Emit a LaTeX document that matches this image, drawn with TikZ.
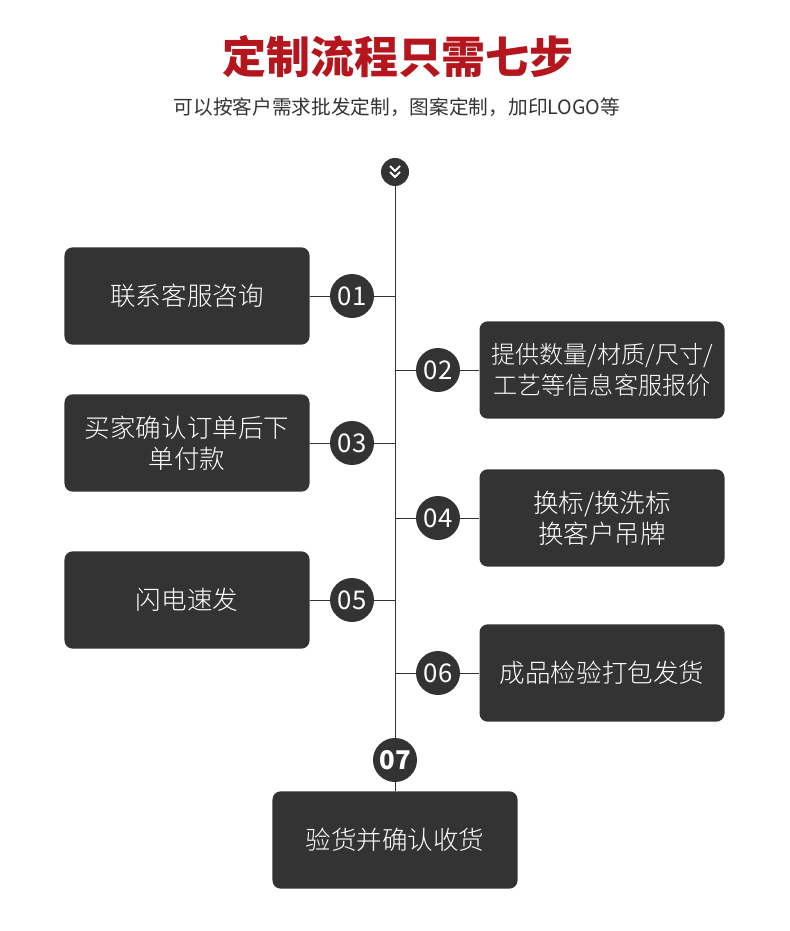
\documentclass[tikz,border=0pt]{standalone}
\usepackage{fontspec}
\setmainfont{Noto Sans CJK SC}
\newfontfamily\lightcjk{Noto Sans CJK SC Light}
\definecolor{titlered}{HTML}{B5161E}
\definecolor{darkbox}{HTML}{333333}
\begin{document}
\begin{tikzpicture}[x=0.03cm, y=-0.03cm,
  stepbox/.style={fill=darkbox, rounded corners=7pt, minimum width=7.35cm, minimum height=2.92cm,
    text=white, align=center, font=\lightcjk\fontsize{21.8}{26.5}\selectfont},
  num/.style={circle, fill=darkbox, minimum size=1.32cm, inner sep=0pt, text=white,
    font=\fontsize{22}{24}\selectfont},
  link/.style={draw=darkbox, line width=0.8pt}]
\useasboundingbox (0,0) rectangle (790,931);

% title
\node[text=titlered, font=\fontsize{37.5}{40}\selectfont\bfseries] (title) at (398,57) {定制流程只需七步};
\node[text=darkbox, font=\fontsize{16.8}{18}\selectfont] (sub) at (397,107) {可以按客户需求批发定制，图案定制，加印LOGO等};

% steps
\node[circle, fill=darkbox, minimum size=0.84cm, inner sep=0pt] (top) at (395,172) {};
\node[stepbox] (b1) at (187,296) {联系客服咨询};
\node[stepbox, font=\lightcjk\fontsize{20.6}{26.5}\selectfont] (b2) at (602,370) {提供数量/材质/尺寸/\\工艺等信息客服报价};
\node[stepbox] (b3) at (187,443) {买家确认订单后下\\单付款};
\node[stepbox] (b4) at (602,518) {换标/换洗标\\换客户吊牌};
\node[stepbox] (b5) at (187,600) {闪电速发};
\node[stepbox] (b6) at (602,673) {成品检验打包发货};
\node[stepbox] (b7) at (395,840) {验货并确认收货};

\coordinate (c1) at (395,296);
\coordinate (c2) at (395,370);
\coordinate (c3) at (395,443);
\coordinate (c4) at (395,518);
\coordinate (c5) at (395,600);
\coordinate (c6) at (395,673);

\path[link] (top) -- (b7);
\path[link] (b1) -- (c1);
\path[link] (c2) -- (b2);
\path[link] (b3) -- (c3);
\path[link] (c4) -- (b4);
\path[link] (b5) -- (c5);
\path[link] (c6) -- (b6);

\node[num] (n1) at (352,296) {01};
\node[num] (n2) at (438,370) {02};
\node[num] (n3) at (352,443) {03};
\node[num] (n4) at (438,518) {04};
\node[num] (n5) at (352,600) {05};
\node[num] (n6) at (438,673) {06};
\node[num, font=\fontsize{22}{24}\selectfont\bfseries] (n7) at (395,760) {07};

% chevrons
\draw[white, line width=1.6pt] ([shift={(-5,-6)}]top.center) -- ([shift={(0,-1)}]top.center) -- ([shift={(5,-6)}]top.center);
\draw[white, line width=1.6pt] ([shift={(-5,0)}]top.center) -- ([shift={(0,5)}]top.center) -- ([shift={(5,0)}]top.center);
\end{tikzpicture}
\end{document}
